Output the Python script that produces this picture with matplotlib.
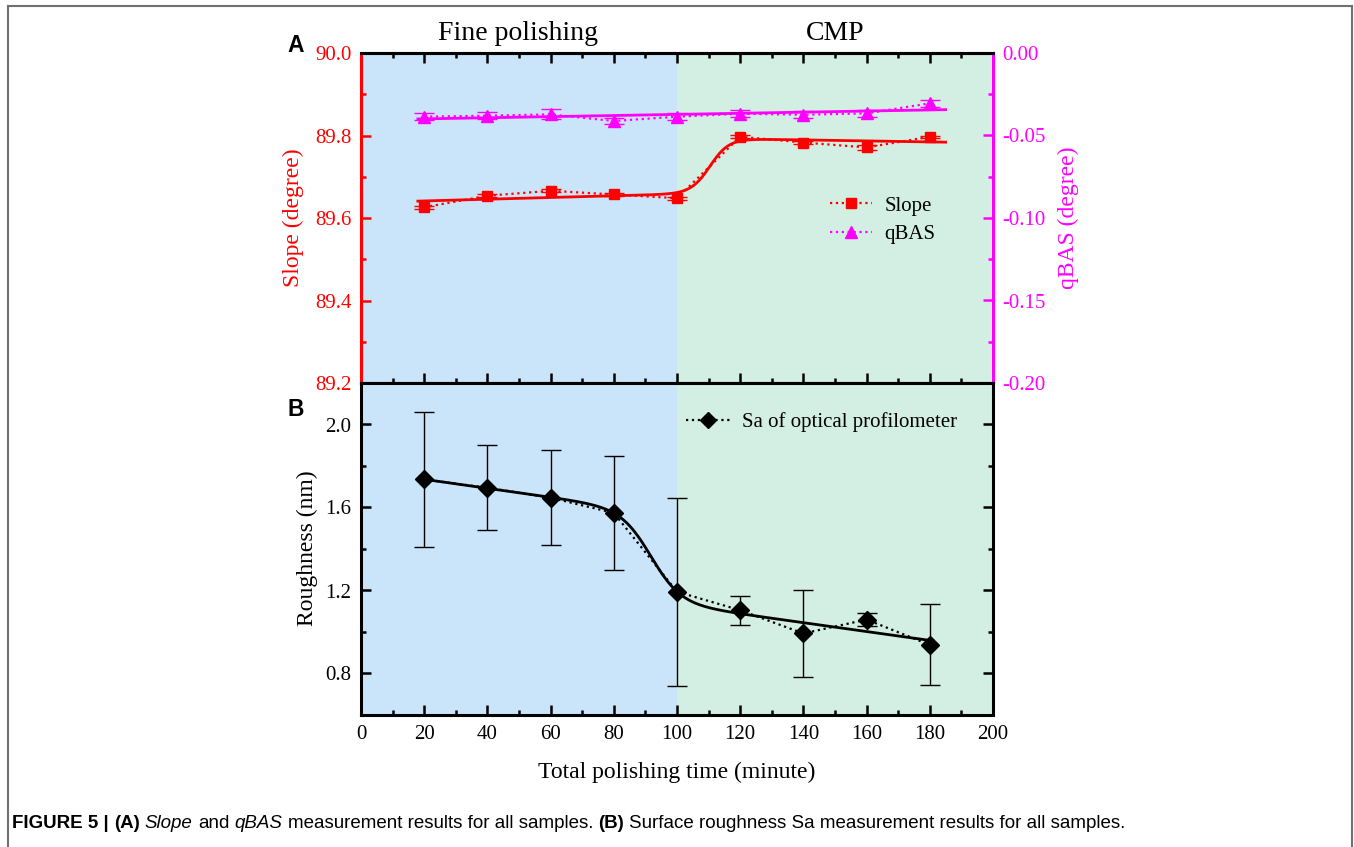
import numpy as np
import matplotlib
matplotlib.use('Agg')
import matplotlib.pyplot as plt
from matplotlib.lines import Line2D
from matplotlib.ticker import MultipleLocator, FormatStrFormatter
from matplotlib import font_manager

# ---------------- data ----------------
time = np.array([20, 40, 60, 80, 100, 120, 140, 160, 180])
slope = np.array([89.626, 89.654, 89.666, 89.657, 89.648, 89.797, 89.783, 89.771, 89.797])
slope_err = np.array([0.004, 0.004, 0.004, 0.003, 0.004, 0.004, 0.004, 0.005, 0.003])
qbas = np.array([-0.0386, -0.0380, -0.0372, -0.0412, -0.0386, -0.0368, -0.0374, -0.0366, -0.0305])
qbas_err = np.array([0.002, 0.002, 0.003, 0.002, 0.002, 0.002, 0.002, 0.002, 0.002])
sa = np.array([1.735, 1.695, 1.647, 1.574, 1.194, 1.105, 0.993, 1.060, 0.938])
sa_err = np.array([0.325, 0.205, 0.230, 0.275, 0.454, 0.070, 0.210, 0.030, 0.195])

phase_labels = ["Fine polishing", "CMP"]
phase_bounds = [0, 100, 200]
x_ticks = [0, 20, 40, 60, 80, 100, 120, 140, 160, 180, 200]

W, H = 1354, 847
plt.rcParams['font.family'] = ['Liberation Serif', 'DejaVu Serif']
plt.rcParams['axes.unicode_minus'] = False

RED = '#FF0000'
MAG = '#FF00FF'
BLUE_BG = '#CAE5FA'
GREEN_BG = '#D3EEE3'


def fx(px):
    return px / W


def fy(py):
    return 1 - py / H


def sig_fit(x, y, xf, dx_min=3.0, dx_max=15.0):
    """Sigmoid transition between two linear trends, least-squares fitted."""
    x = np.asarray(x, float)
    best = None
    for x0 in np.arange(85, 120.01, 0.25):
        for dx in np.arange(dx_min, dx_max + 0.01, 0.25):
            s = 1.0 / (1.0 + np.exp((x - x0) / dx))
            A = np.column_stack([s, s * x, (1 - s), (1 - s) * x])
            coef, *_ = np.linalg.lstsq(A, y, rcond=None)
            r = np.sum((A @ coef - y) ** 2)
            if best is None or r < best[0]:
                best = (r, x0, dx, coef)
    _, x0, dx, c = best
    sf = 1.0 / (1.0 + np.exp((xf - x0) / dx))
    return sf * (c[0] + c[1] * xf) + (1 - sf) * (c[2] + c[3] * xf)


fig = plt.figure(figsize=(W / 100, H / 100), dpi=100)

ax1 = fig.add_axes([fx(361), fy(383), fx(993) - fx(361), fy(53) - fy(383)])
ax1b = ax1.twinx()
ax2 = fig.add_axes([fx(361), fy(715), fx(993) - fx(361), fy(383) - fy(715)])

for ax in (ax1, ax2):
    ax.axvspan(phase_bounds[0], phase_bounds[1], color=BLUE_BG, lw=0, zorder=0)
    ax.axvspan(phase_bounds[1], phase_bounds[2], color=GREEN_BG, lw=0, zorder=0)
    ax.set_xlim(0, 200)

# ---- top panel ----
xf_top = np.linspace(18, 185, 400)
ax1.plot(time, slope, ':', color=RED, lw=1.6, zorder=2)
ax1.plot(xf_top, sig_fit(time, slope, xf_top, 3.0, 12.0), '-', color=RED, lw=2, zorder=3)
ax1.errorbar(time, slope, yerr=slope_err, fmt='none', ecolor=RED, elinewidth=1,
             capsize=7, capthick=1, zorder=3)
ax1.plot(time, slope, 's', color=RED, ms=7, zorder=4)
ax1.set_ylim(89.2, 90.0)

qfit = np.polyval(np.polyfit(time, qbas, 1), xf_top)
ax1b.plot(time, qbas, ':', color=MAG, lw=1.6, zorder=2)
ax1b.plot(xf_top, qfit, '-', color=MAG, lw=2, zorder=3)
ax1b.errorbar(time, qbas, yerr=qbas_err, fmt='none', ecolor=MAG, elinewidth=1,
              capsize=7, capthick=1, zorder=3)
ax1b.plot(time, qbas, '^', color=MAG, ms=9, zorder=4)
ax1b.set_ylim(-0.20, 0.0)

# ---- bottom panel ----
xf_bot = np.linspace(20, 181, 400)
ax2.plot(time, sa, ':', color='black', lw=1.6, zorder=2)
ax2.plot(xf_bot, sig_fit(time, sa, xf_bot, 3.0, 12.0), '-', color='black', lw=2, zorder=3)
ax2.errorbar(time, sa, yerr=sa_err, fmt='none', ecolor='black', elinewidth=1,
             capsize=7.5, capthick=1, zorder=3)
ax2.plot(time, sa, 'D', color='black', ms=9, zorder=4)
ax2.set_ylim(0.6, 2.2)

# ---- spines & ticks ----
for ax in (ax1, ax1b, ax2):
    for sp in ax.spines.values():
        sp.set_linewidth(2.2)
ax1.spines['left'].set_color(RED)
ax1.spines['right'].set_visible(False)
ax1b.spines['left'].set_visible(False)
ax1b.spines['right'].set_color(MAG)

tick_kw = dict(direction='in', width=1.8)
ax1.set_xticks(x_ticks)
ax1.xaxis.set_minor_locator(MultipleLocator(10))
ax1.tick_params(axis='x', which='both', top=True, bottom=True, labelbottom=False, labeltop=False,
                color='black', **tick_kw)
ax1.tick_params(axis='x', which='major', length=7)
ax1.tick_params(axis='x', which='minor', length=3.5)
ax1.yaxis.set_major_locator(MultipleLocator(0.2))
ax1.yaxis.set_minor_locator(MultipleLocator(0.1))
ax1.yaxis.set_major_formatter(FormatStrFormatter('%.1f'))
ax1.tick_params(axis='y', which='both', left=True, right=False, colors=RED, labelsize=15, pad=7, **tick_kw)
ax1.tick_params(axis='y', which='major', length=7)
ax1.tick_params(axis='y', which='minor', length=3.5)

ax1b.yaxis.set_major_locator(MultipleLocator(0.05))
ax1b.yaxis.set_minor_locator(MultipleLocator(0.025))
ax1b.yaxis.set_major_formatter(FormatStrFormatter('%.2f'))
ax1b.tick_params(axis='y', which='both', colors=MAG, labelsize=15, pad=7, **tick_kw)
ax1b.tick_params(axis='y', which='major', length=7)
ax1b.tick_params(axis='y', which='minor', length=3.5)

ax2.set_xticks(x_ticks)
ax2.xaxis.set_minor_locator(MultipleLocator(10))
ax2.tick_params(axis='x', which='both', top=False, bottom=True, labelsize=15, pad=7, **tick_kw)
ax2.tick_params(axis='x', which='major', length=7)
ax2.tick_params(axis='x', which='minor', length=3.5)
ax2.yaxis.set_major_locator(MultipleLocator(0.4))
ax2.yaxis.set_minor_locator(MultipleLocator(0.2))
ax2.yaxis.set_major_formatter(FormatStrFormatter('%.1f'))
ax2.tick_params(axis='y', which='both', left=True, right=True, labelright=False, labelsize=15, pad=7,
                **tick_kw)
ax2.tick_params(axis='y', which='major', length=7)
ax2.tick_params(axis='y', which='minor', length=3.5)

# ---- legends ----
h1 = Line2D([], [], color=RED, ls=':', lw=1.6, marker='s', ms=7)
h2 = Line2D([], [], color=MAG, ls=':', lw=1.6, marker='^', ms=9)
ax1b.legend([h1, h2], ['Slope', 'qBAS'], loc='upper left', bbox_to_anchor=(fx(830), fy(196)),
            bbox_transform=fig.transFigure, frameon=False, fontsize=15, handlelength=2.0,
            handletextpad=0.6, borderpad=0, labelspacing=0.42, borderaxespad=0)
h3 = Line2D([], [], color='black', ls=':', lw=1.6, marker='D', ms=8)
ax2.legend([h3], ['Sa of optical profilometer'], loc='upper left', bbox_to_anchor=(fx(686), fy(412)),
           bbox_transform=fig.transFigure, frameon=False, fontsize=15, handlelength=2.1,
           handletextpad=0.6, borderpad=0, borderaxespad=0)

# ---- texts ----
fig.text(fx(518), fy(34), phase_labels[0], fontsize=20, ha='center', va='center')
fig.text(fx(835), fy(34), phase_labels[1], fontsize=20, ha='center', va='center')
fig.text(fx(293), fy(218), 'Slope (degree)', color=RED, fontsize=17, rotation=90, ha='center', va='center')
fig.text(fx(1068), fy(218), 'qBAS (degree)', color=MAG, fontsize=17, rotation=90, ha='center', va='center')
fig.text(fx(307), fy(548), 'Roughness (nm)', color='black', fontsize=17, rotation=90, ha='center', va='center')
fig.text(fx(677), fy(772), 'Total polishing time (minute)', fontsize=17, ha='center', va='center')
sans_bold = dict(family=['Liberation Sans', 'DejaVu Sans'], weight='bold', fontsize=16.5)
fig.text(fx(296), fy(46), 'A', ha='center', va='center', **sans_bold)
fig.text(fx(296), fy(409), 'B', ha='center', va='center', **sans_bold)

# ---- border ----
bc = '#707070'
fig.add_artist(Line2D([fx(8), fx(8)], [0, fy(6)], transform=fig.transFigure, color=bc, lw=1.5))
fig.add_artist(Line2D([fx(8), fx(1352)], [fy(6), fy(6)], transform=fig.transFigure, color=bc, lw=1.5))
fig.add_artist(Line2D([fx(1352), fx(1352)], [0, fy(6)], transform=fig.transFigure, color=bc, lw=1.5))

# ---- caption ----
names = {f.name for f in font_manager.fontManager.ttflist}
cap_fam = 'Liberation Sans Narrow' if 'Liberation Sans Narrow' in names else 'Liberation Sans'
pieces = [("FIGURE 5 |", 'bold', 'normal'), ("(A)", 'bold', 'normal'), ("Slope", 'normal', 'italic'),
          ("and", 'normal', 'normal'), ("qBAS", 'normal', 'italic'),
          ("measurement results for all samples.", 'normal', 'normal'), ("(B)", 'bold', 'normal'),
          ("Surface roughness Sa measurement results for all samples.", 'normal', 'normal')]
renderer = fig.canvas.get_renderer()


def text_w(s, size, weight, style):
    t = fig.text(0, 0, s, family=cap_fam, fontsize=size, weight=weight, style=style)
    w = t.get_window_extent(renderer).width
    t.remove()
    return w


def total_w(size):
    sp = text_w("x x", size, 'normal', 'normal') - text_w("xx", size, 'normal', 'normal')
    return sum(text_w(p[0], size, p[1], p[2]) for p in pieces) + sp * (len(pieces) - 1), sp


size = 11.0
tw, sp = total_w(size)
size = size * (1117.0 / tw)
tw, sp = total_w(size)
xpos = 12.0
for s, wgt, sty in pieces:
    fig.text(fx(xpos), fy(823), s, family=cap_fam, fontsize=size, weight=wgt, style=sty,
             ha='left', va='center')
    xpos += text_w(s, size, wgt, sty) + sp

fig.savefig('out.png', dpi=100)
